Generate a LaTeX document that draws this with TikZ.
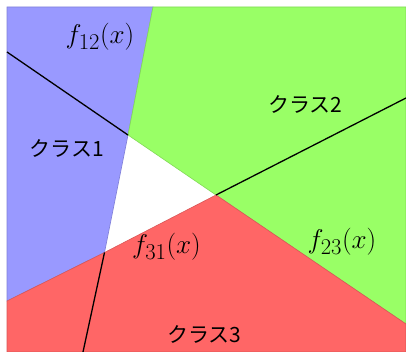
\documentclass[tikz,border=0pt]{standalone}
\usepackage{fontspec}
\newfontfamily\jpfont{Noto Sans CJK JP}
\definecolor{cblue}{HTML}{9999FF}
\definecolor{cgreen}{HTML}{99FF66}
\definecolor{cred}{HTML}{FF6666}
\begin{document}
\begin{tikzpicture}[x=1pt,y=-1pt,
  region/.style={line width=0.6pt, line join=miter},
  sep/.style={line width=1.3pt, black},
  jlabel/.style={inner sep=0pt, font=\jpfont\fontsize{21}{24}\selectfont},
  mlabel/.style={inner sep=0pt, scale=1.09, font=\fontsize{24.88}{30}\selectfont}]
\useasboundingbox (0,0) rectangle (406,352);
\fill[white] (0,0) rectangle (406,352);
% triangle vertices and boundary points
\coordinate (A) at (128,135);
\coordinate (B) at (216,195);
\coordinate (C) at (104.5,252.5);
\coordinate (T1) at (153,7);
\coordinate (TL) at (7,7);
\coordinate (TR) at (406,7);
\coordinate (L2) at (7,301);
\coordinate (R3) at (406,324);
\coordinate (BR) at (406,352);
\coordinate (BL) at (7,352);
% regions
\filldraw[region, fill=cblue, draw=cblue!85!black] (TL) -- (T1) -- (A) -- (C) -- (L2) -- cycle;
\filldraw[region, fill=cgreen, draw=cgreen!85!black] (T1) -- (TR) -- (R3) -- (B) -- (A) -- cycle;
\filldraw[region, fill=cred, draw=cred!85!black] (L2) -- (C) -- (B) -- (R3) -- (BR) -- (BL) -- cycle;
% separating lines
\coordinate (E12) at (7,52);
\coordinate (E23) at (406,98);
\coordinate (E31) at (83,352);
\draw[sep] (E12) -- (A);
\draw[sep] (B) -- (E23);
\draw[sep] (C) -- (E31);
% labels
\node[mlabel] (f12) at (100,37) {$f_{12}(x)$};
\node[mlabel] (f31) at (166.5,247) {$f_{31}(x)$};
\node[mlabel] (f23) at (342,242) {$f_{23}(x)$};
\node[jlabel] (k1) at (67,148) {クラス1};
\node[jlabel] (k2) at (305.5,104) {クラス2};
\node[jlabel] (k3) at (204.5,334.5) {クラス3};
\end{tikzpicture}
\end{document}
